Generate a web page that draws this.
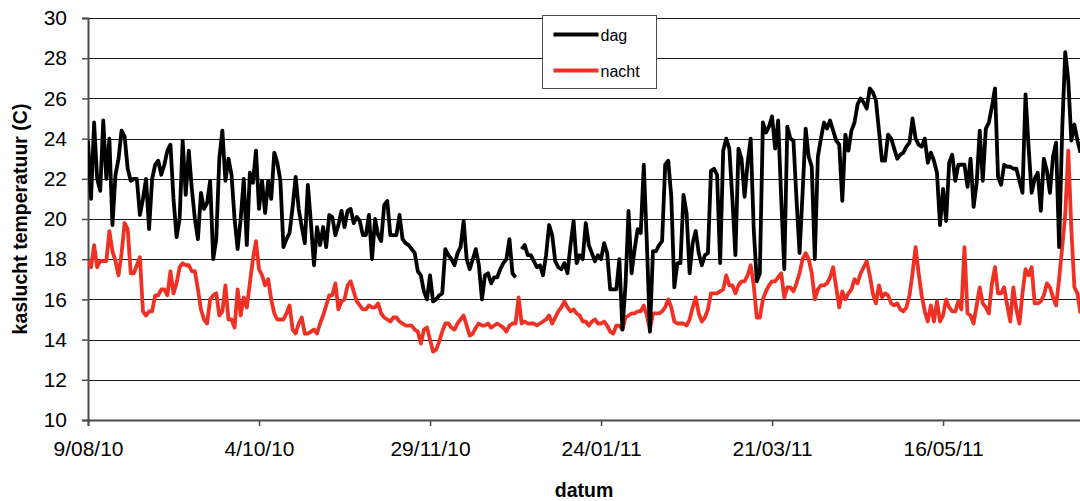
<!DOCTYPE html>
<html>
<head>
<meta charset="utf-8">
<script src="https://cdn.jsdelivr.net/npm/d3@7"></script>
<style>
  body { margin: 0; background: #fff; }
  text { font-family: "Liberation Sans", Arial, sans-serif; fill: #000; }
</style>
</head>
<body>
<div id="chart"></div>
<script>
const width = 1080;
const height = 501;
const margin = { top: 18, right: 0, bottom: 81, left: 88 };

// one reading per day, starting 9 Aug 2010
const startDate = "2010-08-09";
const tickDates = ["2010-08-09", "2010-10-04", "2010-11-29", "2011-01-24", "2011-03-21", "2011-05-16"];
const yTicks = [10, 12, 14, 16, 18, 20, 22, 24, 26, 28, 30];
const seriesNames = ["dag", "nacht"];

const dag = [
  23.9, 21.0, 24.8, 22.0, 21.4, 24.9, 22.0, 24.0, 19.7, 22.2,
  23.0, 24.4, 24.1, 22.5, 21.9, 22.0, 22.0, 20.2, 21.0, 22.0,
  19.5, 22.0, 22.7, 22.9, 22.2, 22.7, 23.4, 23.7, 21.0, 19.1,
  20.0, 23.9, 21.2, 23.4, 21.5, 20.0, 19.0, 21.3, 20.5, 20.8,
  21.9, 18.0, 19.0, 23.0, 24.4, 21.9, 23.0, 22.2, 20.0, 18.5,
  20.0, 22.0, 18.7, 22.3, 21.8, 23.4, 20.5, 21.9, 20.3, 21.9,
  21.0, 23.3, 22.8, 21.9, 18.6, 19.0, 19.3, 20.6, 22.1, 20.5,
  19.6, 18.8, 21.7, 19.8, 17.7, 19.6, 18.7, 19.6, 18.6, 20.2,
  20.1, 19.2, 19.7, 20.4, 19.6, 20.4, 20.5, 19.8, 20.1, 19.9,
  19.2, 19.2, 20.2, 18.0, 20.0, 19.2, 18.9, 20.7, 20.9, 19.2,
  19.2, 19.2, 20.2, 19.0, 18.8, 18.7, 18.5, 18.3, 17.4, 17.2,
  16.4, 16.0, 17.2, 15.9, 16.0, 16.2, 16.3, 18.5, 18.2, 18.0,
  17.7, 18.3, 18.6, 19.9, 18.0, 17.5, 18.0, 18.5, 17.7, 16.0,
  17.2, 17.3, 16.8, 17.1, 17.1, 17.5, 17.8, 18.0, 19.0, 17.3,
  17.1, null, 18.5, 18.7, 18.2, 18.2, 17.9, 17.6, 17.7, 17.2,
  18.2, 19.7, 19.2, 17.9, 17.6, 17.5, 17.8, 17.3, 18.7, 19.9,
  17.8, 18.2, 18.0, 19.8, 18.7, 18.3, 17.9, 18.2, 18.0, 18.8,
  18.3, 16.5, 16.5, 16.5, 18.0, 14.5, 16.7, 20.4, 17.3, 18.5,
  19.5, 19.3, 22.7, 18.8, 14.4, 18.4, 18.4, 18.7, 18.9, 22.7,
  22.9, 21.1, 16.6, 17.8, 17.8, 21.2, 20.3, 17.3, 18.8, 19.4,
  18.3, 17.7, 18.2, 18.3, 22.4, 22.5, 22.2, 17.8, 23.4, 24.0,
  23.5, 21.0, 18.2, 23.5, 23.0, 21.1, 22.8, 24.0, 19.5, 16.9,
  17.3, 24.8, 24.3, 24.6, 25.1, 23.5, 24.9, 21.0, 17.5, 24.6,
  24.0, 23.9, 21.0, 18.3, 21.3, 24.5, 23.1, 22.6, 18.0, 23.1,
  24.0, 24.8, 24.5, 24.9, 24.4, 23.9, 23.7, 20.9, 24.2, 23.4,
  24.4, 24.8, 25.7, 26.0, 25.8, 25.5, 26.5, 26.3, 25.9, 24.4,
  22.9, 22.9, 24.2, 24.0, 23.5, 23.0, 23.2, 23.3, 23.6, 23.8,
  25.0, 24.0, 23.7, 23.6, 24.0, 22.8, 23.3, 22.9, 22.3, 19.7,
  21.5, 19.9, 22.8, 23.2, 21.9, 22.7, 22.7, 22.7, 21.6, 23.0,
  20.6, 21.8, 24.4, 21.9, 24.5, 24.8, 25.6, 26.5, 22.1, 21.7,
  22.7, 22.6, 22.6, 22.5, 22.5, 21.9, 21.3, 26.2, 23.6, 21.3,
  22.0, 22.3, 20.4, 23.0, 22.4, 21.3, 23.1, 23.8, 18.6, 24.4,
  28.3, 26.9, 23.9, 24.7, 23.9, 23.3
];

const nacht = [
  17.9, 17.6, 18.7, 17.6, 17.9, 17.9, 17.9, 19.4, 18.4, 17.9,
  17.2, 18.3, 19.8, 19.5, 17.3, 17.3, 17.7, 18.1, 15.4, 15.2,
  15.4, 15.4, 16.2, 16.2, 16.5, 16.5, 16.2, 17.4, 16.3, 16.8,
  17.6, 17.8, 17.7, 17.7, 17.4, 17.4, 16.5, 15.5, 15.0, 14.8,
  16.0, 16.2, 16.3, 15.2, 15.4, 16.7, 15.0, 15.0, 14.6, 16.5,
  15.2, 16.1, 15.6, 16.8, 18.0, 18.9, 17.5, 17.2, 16.7, 17.0,
  16.0, 15.3, 15.0, 15.0, 15.0, 15.3, 15.7, 14.5, 14.3, 14.8,
  15.1, 14.3, 14.3, 14.4, 14.5, 14.3, 14.8, 15.2, 15.7, 16.2,
  16.2, 16.8, 15.5, 15.9, 16.0, 16.7, 16.9, 16.4, 15.9, 15.7,
  15.5, 15.5, 15.7, 15.6, 15.6, 15.8, 15.3, 15.1, 15.0, 14.9,
  15.1, 15.1, 14.9, 14.8, 14.7, 14.7, 14.7, 14.5, 14.4, 13.8,
  14.5, 14.6, 14.0, 13.4, 13.5, 13.9, 14.4, 14.8, 14.8, 14.6,
  14.5, 14.8, 15.0, 15.2, 14.7, 14.2, 14.3, 14.6, 14.8, 14.7,
  14.7, 14.8, 14.6, 14.7, 14.8, 14.7, 14.6, 14.4, 14.7, 14.8,
  14.8, 16.1, 14.8, 14.9, 14.8, 14.8, 14.8, 14.7, 14.8, 14.9,
  15.0, 15.2, 14.8, 15.1, 15.4, 15.6, 15.9, 15.6, 15.4, 15.5,
  15.3, 15.2, 14.9, 14.9, 14.7, 14.9, 15.0, 14.8, 14.8, 14.9,
  14.7, 14.4, 14.3, 14.7, 14.7, 14.5, 15.1, 15.2, 15.3, 15.3,
  15.4, 15.4, 15.7, 15.2, 14.5, 15.3, 15.3, 15.3, 15.4, 15.6,
  16.0, 15.6, 14.9, 14.8, 14.8, 14.8, 14.7, 15.0, 15.6, 16.1,
  15.3, 14.9, 15.1, 15.5, 16.3, 16.3, 16.3, 16.4, 16.5, 17.2,
  16.7, 16.7, 16.3, 16.7, 16.9, 16.9, 17.2, 17.7, 16.7, 15.1,
  15.1, 16.0, 16.4, 16.7, 16.9, 16.9, 17.1, 17.3, 16.1, 16.6,
  16.6, 16.4, 16.8, 17.3, 18.0, 18.3, 18.0, 17.3, 16.0, 16.5,
  16.7, 16.7, 16.8, 17.1, 17.6, 16.6, 15.6, 16.4, 16.0, 16.3,
  16.5, 17.0, 16.8, 17.3, 17.6, 17.9, 17.2, 16.3, 15.8, 16.7,
  16.1, 16.3, 16.2, 15.8, 15.7, 15.8, 15.5, 15.4, 15.6, 16.2,
  17.3, 18.6, 17.3, 16.2, 15.4, 14.9, 15.7, 14.9, 15.9, 14.9,
  15.2, 16.0, 15.6, 15.4, 15.4, 15.9, 15.5, 18.6, 15.3, 15.2,
  14.8, 15.7, 16.6, 15.8, 15.6, 15.3, 16.8, 17.6, 16.3, 16.3,
  16.6, 15.7, 14.9, 16.6, 15.5, 14.8, 16.3, 17.5, 17.2, 17.6,
  15.8, 15.8, 15.9, 16.2, 16.8, 16.6, 16.1, 15.7, 17.0, 18.6,
  20.2, 23.4, 19.5, 16.6, 16.3, 15.3
];

const colors = { dag: "#000000", nacht: "#ee3124" };

const parseDate = d3.utcParse("%Y-%m-%d");
const start = parseDate(startDate);
const dayDate = (i) => d3.utcDay.offset(start, i);

const svg = d3
  .select("#chart")
  .append("svg")
  .attr("width", width)
  .attr("height", height);

const x = d3
  .scaleUtc()
  .domain([start, dayDate(dag.length - 1)])
  .range([margin.left, 1080.5]);

const y = d3
  .scaleLinear()
  .domain([10, 30])
  .range([height - margin.bottom, margin.top]);

// horizontal grid
svg
  .append("g")
  .selectAll("line")
  .data(yTicks.slice(1))
  .join("line")
  .attr("x1", margin.left)
  .attr("x2", width)
  .attr("y1", (d) => Math.round(y(d)) + 0.5)
  .attr("y2", (d) => Math.round(y(d)) + 0.5)
  .attr("stroke", "#1a1a1a")
  .attr("stroke-width", 1);

// y axis
const yAxis = d3
  .axisLeft(y)
  .tickValues(yTicks)
  .tickSize(6)
  .tickPadding(15);

svg
  .append("g")
  .attr("transform", `translate(${margin.left},0)`)
  .call(yAxis)
  .call((g) => g.select(".domain").attr("stroke", "#4a4a4a").attr("stroke-width", 2))
  .call((g) => g.selectAll(".tick line").attr("stroke", "#4a4a4a").attr("stroke-width", 1.5))
  .call((g) =>
    g.selectAll(".tick text")
      .style("font-size", "21px")
      .style("font-family", "Liberation Sans, Arial, sans-serif")
  );

// x axis
const xAxis = d3
  .axisBottom(x)
  .tickValues(tickDates.map(parseDate))
  .tickFormat(d3.utcFormat("%-d/%m/%y"))
  .tickSize(6)
  .tickPadding(15);

svg
  .append("g")
  .attr("transform", `translate(0,${height - margin.bottom})`)
  .call(xAxis)
  .call((g) => g.select(".domain").attr("stroke", "#4a4a4a").attr("stroke-width", 2))
  .call((g) => g.selectAll(".tick line").attr("stroke", "#4a4a4a").attr("stroke-width", 1.5))
  .call((g) =>
    g.selectAll(".tick text")
      .style("font-size", "21px")
      .style("font-family", "Liberation Sans, Arial, sans-serif")
  );

// series lines
const line = d3
  .line()
  .defined((d) => d != null)
  .x((d, i) => x(dayDate(i)))
  .y((d) => y(d));

svg
  .append("defs")
  .append("clipPath")
  .attr("id", "plot-clip")
  .append("rect")
  .attr("x", margin.left)
  .attr("y", 0)
  .attr("width", width - margin.left)
  .attr("height", height - margin.bottom);

const seriesData = { dag: dag, nacht: nacht };

svg
  .append("g")
  .attr("clip-path", "url(#plot-clip)")
  .selectAll("path")
  .data(seriesNames.slice().reverse())
  .join("path")
  .attr("d", (name) => line(seriesData[name]))
  .attr("fill", "none")
  .attr("stroke", (name) => colors[name])
  .attr("stroke-width", 3.8)
  .attr("stroke-linejoin", "round");

// axis titles
svg
  .append("text")
  .attr("transform", `translate(22,${(margin.top + height - margin.bottom) / 2}) rotate(-90)`)
  .attr("text-anchor", "middle")
  .attr("dominant-baseline", "middle")
  .style("font-size", "19.5px")
  .style("font-weight", "bold")
  .text("kaslucht temperatuur (C)");

svg
  .append("text")
  .attr("x", 584)
  .attr("y", 497)
  .attr("text-anchor", "middle")
  .style("font-size", "19.5px")
  .style("font-weight", "bold")
  .text("datum");

// legend
const legend = svg.append("g").attr("transform", "translate(542.5,15.5)");

legend
  .append("rect")
  .attr("width", 114)
  .attr("height", 73)
  .attr("fill", "#fff")
  .attr("stroke", "#4a4a4a")
  .attr("stroke-width", 1);

const legendItem = legend
  .selectAll("g.item")
  .data(seriesNames)
  .join("g")
  .attr("class", "item")
  .attr("transform", (d, i) => `translate(0,${19 + i * 36})`);

legendItem
  .append("line")
  .attr("x1", 11)
  .attr("x2", 56)
  .attr("stroke", (d) => colors[d])
  .attr("stroke-width", 3.8);

legendItem
  .append("text")
  .attr("x", 58)
  .attr("y", 6)
  .style("font-size", "16px")
  .text((d) => d);
</script>
</body>
</html>
